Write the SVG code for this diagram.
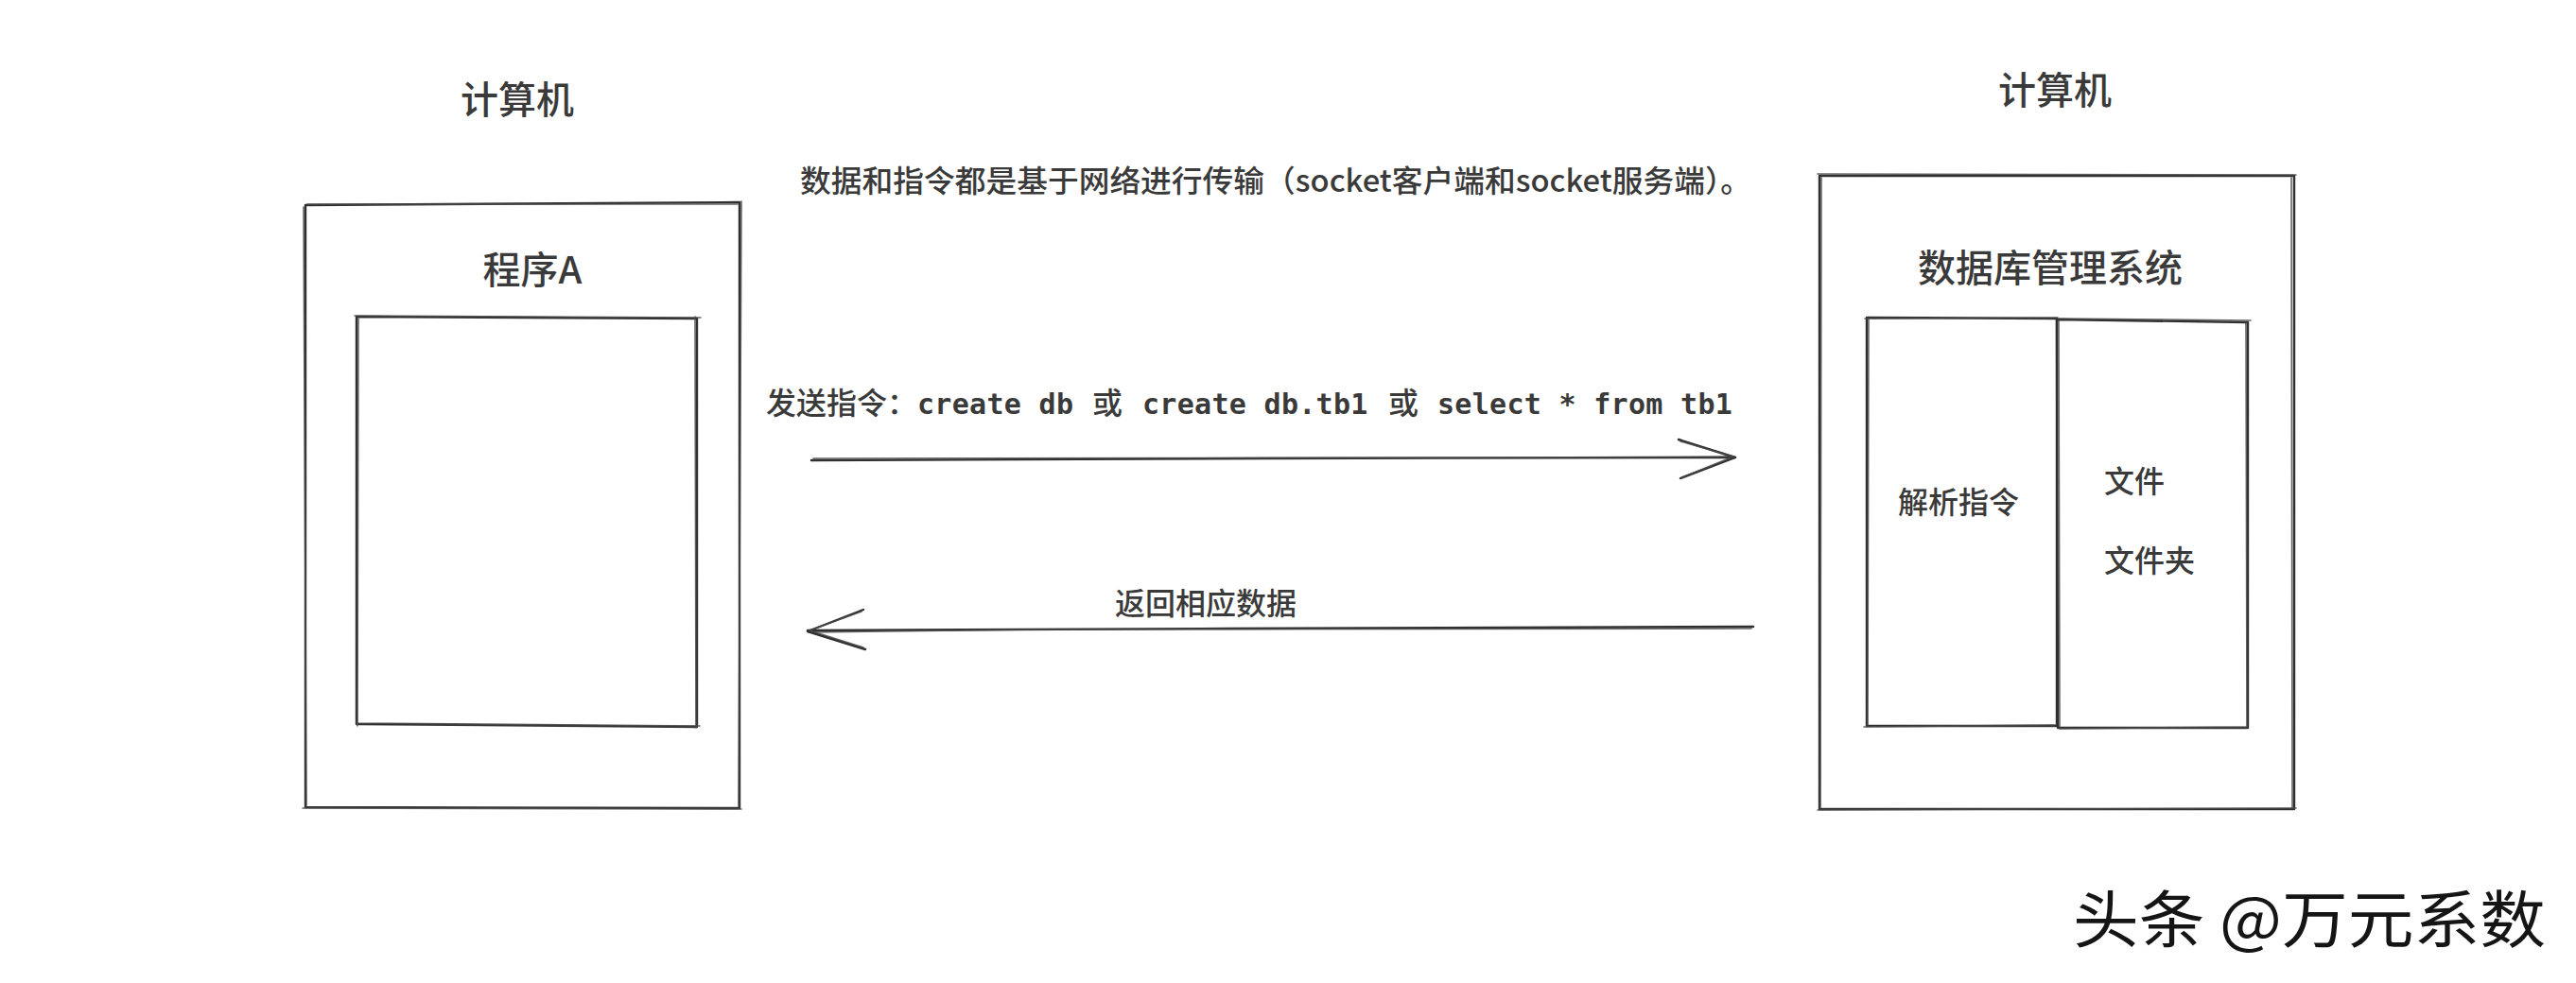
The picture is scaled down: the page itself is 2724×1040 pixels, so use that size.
<svg xmlns="http://www.w3.org/2000/svg" width="2724" height="1040" viewBox="0 0 2724 1040">
<style>
.rough{fill:none;stroke:#2f2f2f;stroke-width:2.4;stroke-linecap:round;stroke-linejoin:round}
.rough2{fill:none;stroke:#4a4a4a;stroke-width:1.6;stroke-linecap:round;stroke-linejoin:round;opacity:.85}
.cjk{font-family:"Noto Sans CJK SC","Noto Sans",sans-serif;fill:#3a3a3a;font-weight:500}
.mono{font-family:"DejaVu Sans Mono","Liberation Mono",monospace;fill:#3a3a3a;font-weight:bold;font-size:30px;letter-spacing:0.3px}
.t40{font-size:40px}
.t32{font-size:32px}
</style>
<rect x="0" y="0" width="2724" height="1040" fill="#ffffff"/>

<g id="left-computer">
  <text class="cjk t40" x="547" y="120" text-anchor="middle">计算机</text>
  <path class="rough" d="M323 217 L782 214 L782 855 L323 854 Z"/>
  <path class="rough2" d="M325 216 L780 216 M784 213 L781 853 M320 855 L784 856 M321 219 L324 852"/>
</g>

<g id="program-a">
  <text class="cjk t40" x="563" y="300" text-anchor="middle">程序A</text>
  <path class="rough" d="M377 335 L737 337 L737 769 L377 766 Z"/>
  <path class="rough2" d="M375 334 L741 336 M735 335 L736 770 M379 337 L378 768 M378 765 L740 768"/>
</g>

<g id="right-computer">
  <text class="cjk t40" x="2173" y="110" text-anchor="middle">计算机</text>
  <path class="rough" d="M1924 186 L2426 186 L2426 856 L1924 856 Z"/>
  <path class="rough2" d="M1922 184 L2428 185 M2423 188 L2424 855 M1926 188 L1925 854 M1922 857 L2428 855"/>
</g>

<g id="dbms">
  <text class="cjk t40" x="2168" y="298" text-anchor="middle">数据库管理系统</text>
</g>

<g id="parse-cmd">
  <path class="rough" d="M1974 336 L2175 337 L2175 768 L1974 768 Z"/>
  <path class="rough2" d="M1972 337 L2176 336 M1976 338 L1975 767 M1971 769 L2173 767"/>
  <text class="cjk t32" x="2071" y="543" text-anchor="middle">解析指令</text>
</g>

<g id="files">
  <path class="rough" d="M2175 338 L2377 341 L2377 770 L2176 770 Z"/>
  <path class="rough2" d="M2177 337 L2380 339 M2375 342 L2376 769 M2178 771 L2376 769 M2177 339 L2178 769"/>
  <text class="cjk t32" x="2225" y="521">文件</text>
  <text class="cjk t32" x="2225" y="605">文件夹</text>
</g>

<g id="note">
  <text class="cjk t32" x="846" y="203" textLength="1006" lengthAdjust="spacingAndGlyphs">数据和指令都是基于网络进行传输（socket客户端和socket服务端）。</text>
</g>

<g id="connectors">
  <g id="send-arrow">
    <path class="rough" d="M858 487 L1340 485 L1835 484"/>
    <path class="rough2" d="M860 485 L1600 484 L1833 483"/>
    <path class="rough" d="M1775 465 L1835 484 L1777 506"/>
    <path class="rough2" d="M1777 467 L1833 483 L1779 505"/>
    <text class="t32" y="438"><tspan class="cjk" x="810">发送指令：</tspan><tspan class="mono" x="970">create db</tspan><tspan class="cjk" x="1155">或</tspan><tspan class="mono" x="1208">create db.tb1</tspan><tspan class="cjk" x="1468">或</tspan><tspan class="mono" x="1520">select * from tb1</tspan></text>
  </g>
  <g id="return-arrow">
    <path class="rough" d="M1854 663 L1300 665 L854 667"/>
    <path class="rough2" d="M1852 665 L1100 666 L856 669"/>
    <path class="rough" d="M913 645 L854 668 L915 687"/>
    <path class="rough2" d="M911 647 L856 667 L913 685"/>
    <text class="cjk t32" x="1179" y="650">返回相应数据</text>
  </g>
</g>

<g id="watermark">
  <text x="2192" y="997" font-family="&quot;Noto Sans CJK SC&quot;,sans-serif" font-size="66" fill="#151515" textLength="500" lengthAdjust="spacingAndGlyphs">头条 @万元系数</text>
</g>
</svg>
